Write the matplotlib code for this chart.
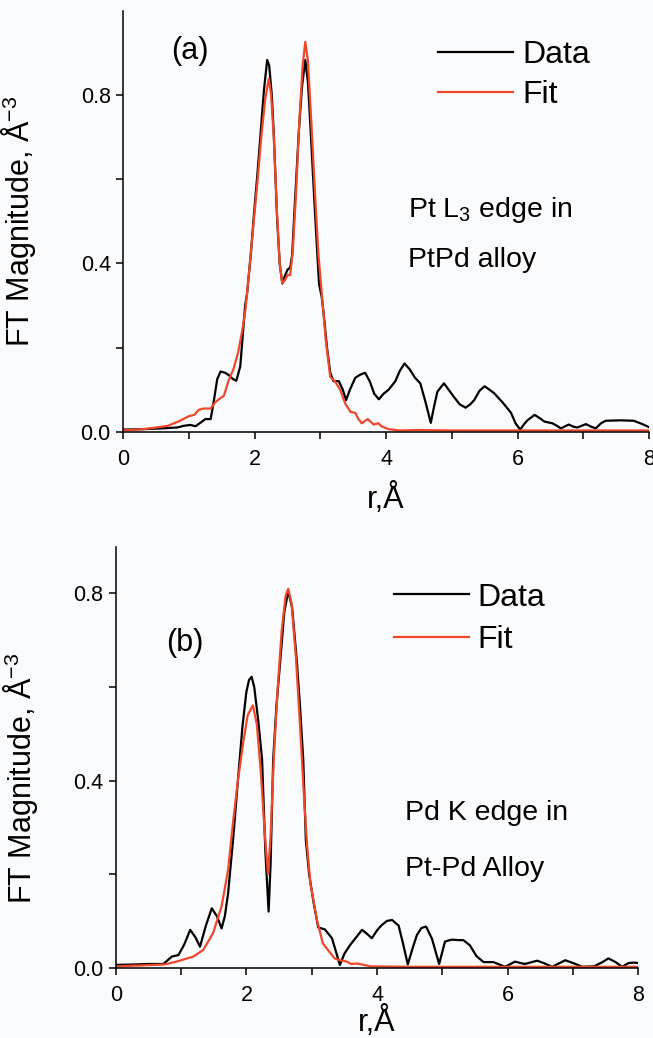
import numpy as np
import matplotlib
matplotlib.use("Agg")
import matplotlib.pyplot as plt

plt.rcParams['font.family'] = ['Liberation Sans', 'DejaVu Sans']
plt.rcParams['mathtext.fontset'] = 'custom'
plt.rcParams['mathtext.rm'] = 'Liberation Sans'
plt.rcParams['mathtext.it'] = 'Liberation Sans:italic'

# (a) Pt L3 edge, data and fit  (r in Angstrom, |FT|)
r_a_data = [0.0, 0.3, 0.6, 0.82, 0.92, 1.02, 1.1, 1.18, 1.25, 1.33, 1.38, 1.43, 1.48, 1.55,
            1.6, 1.67, 1.72, 1.78, 1.855, 1.885, 1.94, 1.99, 2.04, 2.09, 2.14, 2.19, 2.22,
            2.26, 2.29, 2.34, 2.38, 2.42, 2.46, 2.5, 2.54, 2.57, 2.6, 2.67, 2.72, 2.77, 2.81,
            2.85, 2.9, 2.95, 2.98, 3.02, 3.05, 3.1, 3.15, 3.2, 3.28, 3.34, 3.39, 3.45, 3.53,
            3.6, 3.68, 3.75, 3.82, 3.89, 3.96, 4.04, 4.14, 4.21, 4.28, 4.36, 4.44, 4.52, 4.6,
            4.68, 4.73, 4.78, 4.88, 4.95, 5.03, 5.12, 5.21, 5.28, 5.34, 5.42, 5.5, 5.57, 5.64,
            5.77, 5.9, 5.97, 6.04, 6.1, 6.15, 6.26, 6.34, 6.41, 6.53, 6.6, 6.66, 6.78, 6.85,
            6.91, 7.04, 7.12, 7.19, 7.27, 7.34, 7.57, 7.77, 7.9, 8.0]
a_data = [0.005, 0.006, 0.008, 0.01, 0.014, 0.016, 0.013, 0.022, 0.03, 0.03, 0.075, 0.125,
          0.143, 0.14, 0.135, 0.125, 0.121, 0.155, 0.30, 0.33, 0.42, 0.519, 0.61, 0.709, 0.81,
          0.883, 0.87, 0.80, 0.709, 0.51, 0.40, 0.352, 0.37, 0.385, 0.39, 0.42, 0.51, 0.709,
          0.82, 0.883, 0.83, 0.72, 0.57, 0.43, 0.35, 0.32, 0.28, 0.2, 0.14, 0.12, 0.12, 0.1,
          0.075, 0.1, 0.128, 0.135, 0.14, 0.12, 0.09, 0.077, 0.09, 0.1, 0.12, 0.145, 0.162,
          0.148, 0.128, 0.115, 0.07, 0.021, 0.06, 0.095, 0.115, 0.1, 0.083, 0.065, 0.057, 0.065,
          0.075, 0.097, 0.108, 0.1, 0.092, 0.07, 0.045, 0.02, 0.005, 0.018, 0.027, 0.04, 0.032,
          0.024, 0.02, 0.014, 0.008, 0.017, 0.012, 0.01, 0.018, 0.012, 0.008, 0.02, 0.026,
          0.027, 0.026, 0.018, 0.011]

r_a_fit = [0.0, 0.3, 0.5, 0.68, 0.85, 1.0, 1.08, 1.15, 1.22, 1.33, 1.4, 1.48, 1.53, 1.6, 1.68,
           1.75, 1.81, 1.86, 1.92, 1.98, 2.04, 2.1, 2.16, 2.215, 2.25, 2.29, 2.34, 2.38, 2.42,
           2.46, 2.5, 2.54, 2.58, 2.63, 2.68, 2.73, 2.77, 2.81, 2.86, 2.92, 2.97, 3.02, 3.08,
           3.15, 3.22, 3.3, 3.38, 3.46, 3.53, 3.58, 3.63, 3.72, 3.81, 3.88, 3.94, 4.04, 4.2,
           4.5, 5.0, 6.0, 8.0]
a_fit = [0.003, 0.006, 0.01, 0.014, 0.025, 0.037, 0.04, 0.052, 0.055, 0.055, 0.07, 0.08, 0.085,
         0.12, 0.15, 0.19, 0.24, 0.29, 0.39, 0.49, 0.59, 0.70, 0.79, 0.839, 0.8, 0.7, 0.52, 0.40,
         0.352, 0.36, 0.372, 0.372, 0.43, 0.57, 0.74, 0.87, 0.926, 0.88, 0.74, 0.56, 0.42, 0.33,
         0.22, 0.13, 0.12, 0.1, 0.066, 0.047, 0.045, 0.03, 0.02, 0.03, 0.017, 0.02, 0.012, 0.006,
         0.003, 0.004, 0.003, 0.003, 0.003]

# (b) Pd K edge, data and fit
r_b_data = [0.0, 0.3, 0.5, 0.73, 0.86, 0.96, 1.05, 1.14, 1.22, 1.29, 1.38, 1.47, 1.55, 1.62,
            1.67, 1.72, 1.8, 1.87, 1.94, 2.0, 2.04, 2.08, 2.12, 2.18, 2.24, 2.29, 2.34, 2.37,
            2.41, 2.46, 2.52, 2.58, 2.64, 2.7, 2.77, 2.82, 2.87, 2.91, 2.96, 3.03, 3.1, 3.2,
            3.31, 3.38, 3.43, 3.5, 3.59, 3.68, 3.77, 3.85, 3.92, 4.0, 4.07, 4.15, 4.23, 4.33,
            4.4, 4.47, 4.54, 4.61, 4.68, 4.75, 4.84, 4.95, 5.0, 5.04, 5.14, 5.25, 5.32, 5.42,
            5.52, 5.63, 5.78, 5.96, 6.11, 6.26, 6.45, 6.55, 6.68, 6.88, 7.0, 7.14, 7.32, 7.45,
            7.54, 7.65, 7.75, 7.85, 7.93, 8.0]
b_data = [0.006, 0.007, 0.008, 0.008, 0.024, 0.027, 0.05, 0.081, 0.065, 0.045, 0.09, 0.127,
          0.11, 0.084, 0.11, 0.159, 0.28, 0.40, 0.516, 0.59, 0.615, 0.622, 0.60, 0.53, 0.445,
          0.25, 0.12, 0.22, 0.445, 0.56, 0.659, 0.76, 0.805, 0.77, 0.659, 0.56, 0.445, 0.273,
          0.2, 0.138, 0.086, 0.082, 0.063, 0.03, 0.006, 0.03, 0.049, 0.065, 0.081, 0.072, 0.063,
          0.08, 0.091, 0.1, 0.102, 0.09, 0.05, 0.007, 0.04, 0.07, 0.085, 0.088, 0.062, 0.008,
          0.035, 0.056, 0.06, 0.059, 0.059, 0.048, 0.025, 0.012, 0.012, 0.002, 0.013, 0.008,
          0.015, 0.01, 0.002, 0.016, 0.01, 0.002, 0.003, 0.012, 0.02, 0.012, 0.002, 0.01, 0.011,
          0.01]

r_b_fit = [0.0, 0.4, 0.75, 0.93, 1.19, 1.34, 1.49, 1.62, 1.72, 1.8, 1.87, 1.95, 2.02, 2.1, 2.16,
           2.22, 2.28, 2.33, 2.37, 2.42, 2.48, 2.54, 2.6, 2.64, 2.69, 2.76, 2.82, 2.88, 2.93,
           2.98, 3.08, 3.17, 3.27, 3.35, 3.43, 3.54, 3.6, 3.7, 3.9, 4.5, 8.0]
b_fit = [0.003, 0.005, 0.007, 0.013, 0.024, 0.038, 0.074, 0.131, 0.209, 0.316, 0.40, 0.48, 0.54,
         0.561, 0.52, 0.42, 0.29, 0.2, 0.28, 0.45, 0.6, 0.72, 0.795, 0.81, 0.78, 0.66, 0.52,
         0.37, 0.26, 0.18, 0.102, 0.052, 0.034, 0.02, 0.016, 0.013, 0.008, 0.009, 0.003, 0.002,
         0.002]

bg = '#fafbfd'
red = '#f0462a'

fig = plt.figure(figsize=(6.53, 10.38), dpi=100, facecolor=bg)
ax1 = fig.add_axes([0.1888, 0.5841, 0.805, 0.4056])
ax2 = fig.add_axes([0.1772, 0.0677, 0.8005, 0.4056])


def style(ax, ymax):
    ax.set_facecolor(bg)
    ax.set_xlim(0, 8)
    ax.set_ylim(0, ymax)
    for s in ['top', 'right']:
        ax.spines[s].set_visible(False)
    for s in ['left', 'bottom']:
        ax.spines[s].set_linewidth(1.1)
    ax.set_xticks(range(9))
    ax.set_xticklabels(['0', '', '2', '', '4', '', '6', '', '8'])
    ax.set_yticks([0, 0.2, 0.4, 0.6, 0.8])
    ax.set_yticklabels(['0.0', '', '0.4', '', '0.8'])
    ax.tick_params(direction='out', length=5, width=1.1, labelsize=15.5)
    ax.tick_params(axis='x', pad=7.5)
    ax.tick_params(axis='y', pad=4)


kw = dict(lw=1.6, solid_joinstyle='round')

ax1.plot(r_a_data, a_data, color='black', label='Data', **kw)
ax1.plot(r_a_fit, a_fit, color=red, label='Fit', **kw)
style(ax1, 1.0)
ax1.text(1.01, 0.905, '(a)', fontsize=22, ha='center', va='center')
ax1.text(4.33, 0.527, 'Pt L$_3$ edge in', fontsize=20.5, ha='left', va='center')
ax1.text(4.33, 0.408, 'PtPd alloy', fontsize=20.5, ha='left', va='center')
ax1.set_ylabel('FT Magnitude, Å$^{-3}$', fontsize=22)
ax1.yaxis.set_label_coords(-0.162, 0.5)
ax1.set_xlabel('r,Å', fontsize=22, va='center')
ax1.xaxis.set_label_coords(0.5, -0.16)
ax1.legend(loc='center left', bbox_to_anchor=(0.599, 0.847), frameon=False, fontsize=23,
           handlelength=2.35, handletextpad=0.28, labelspacing=0.3, borderpad=0, borderaxespad=0)

ax2.plot(r_b_data, b_data, color='black', label='Data', **kw)
ax2.plot(r_b_fit, b_fit, color=red, label='Fit', **kw)
style(ax2, 0.9)
ax2.text(1.06, 0.695, '(b)', fontsize=22, ha='center', va='center')
ax2.text(4.43, 0.33, 'Pd K edge in', fontsize=20.5, ha='left', va='center')
ax2.text(4.43, 0.21, 'Pt-Pd Alloy', fontsize=20.5, ha='left', va='center')
ax2.set_ylabel('FT Magnitude, Å$^{-3}$', fontsize=22)
ax2.yaxis.set_label_coords(-0.145, 0.45)
ax2.set_xlabel('r,Å', fontsize=22, va='center')
ax2.xaxis.set_label_coords(0.5, -0.13)
ax2.legend(loc='center left', bbox_to_anchor=(0.532, 0.829), frameon=False, fontsize=23,
           handlelength=2.35, handletextpad=0.28, labelspacing=0.38, borderpad=0, borderaxespad=0)

fig.savefig('out.png', dpi=100, facecolor=bg)
